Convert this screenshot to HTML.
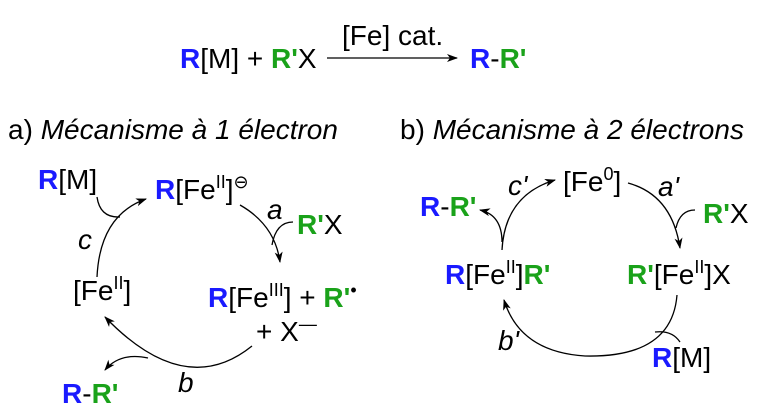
<!DOCTYPE html>
<html><head><meta charset="utf-8"><style>
html,body{margin:0;padding:0;background:#fff;}
svg{display:block;font-family:"Liberation Sans","DejaVu Sans",sans-serif;}
.B{fill:#1a1aff;font-weight:bold;}
.G{fill:#1aa21a;font-weight:bold;}
text{font-size:28px;fill:#000;}
.sup{font-size:18px;}
path{fill:none;stroke:#000;stroke-width:1.3;}
</style></head><body>
<svg width="760" height="413" viewBox="0 0 760 413">
<defs><marker id="ah" markerWidth="12" markerHeight="10" refX="10" refY="4" orient="auto" markerUnits="userSpaceOnUse"><path d="M0,0 L11,4 L0,8 L3,4 Z" style="fill:#000;stroke:none"/></marker></defs>

<!-- top equation -->
<text x="180" y="68"><tspan class="B">R</tspan>[M] + <tspan class="G">R'</tspan>X</text>
<path d="M327,58 L457,58" marker-end="url(#ah)"/>
<text x="342" y="45">[Fe] cat.</text>
<text x="470" y="68"><tspan class="B">R</tspan>-<tspan class="G">R'</tspan></text>

<text x="8" y="139">a) <tspan font-style="italic">Mécanisme à 1 électron</tspan></text>
<text x="400" y="139">b) <tspan font-style="italic">Mécanisme à 2 électrons</tspan></text>

<!-- left cycle -->
<text x="38" y="189"><tspan class="B">R</tspan>[M]</text>
<text x="155" y="199"><tspan class="B">R</tspan>[Fe<tspan class="sup" dy="-11">II</tspan><tspan dy="11">]</tspan><tspan class="sup" dy="-11" font-family="DejaVu Sans">⊖</tspan></text>
<text x="78" y="249" font-style="italic">c</text>
<text x="267" y="219" font-style="italic">a</text>
<text x="297" y="234"><tspan class="G">R'</tspan>X</text>
<text x="73" y="300">[Fe<tspan class="sup" dy="-11">II</tspan><tspan dy="11">]</tspan></text>
<text x="208" y="307"><tspan class="B">R</tspan>[Fe<tspan class="sup" dy="-11">III</tspan><tspan dy="11">] + </tspan><tspan class="G">R'</tspan><tspan class="sup" dy="-11">•</tspan></text>
<text x="256" y="341">+ X<tspan class="sup" dy="-11">—</tspan></text>
<text x="62" y="403"><tspan class="B">R</tspan>-<tspan class="G">R'</tspan></text>
<text x="178" y="392" font-style="italic">b</text>

<path d="M97,277 Q100,215 146,199" marker-end="url(#ah)"/>
<path d="M97,197 Q100,218 120,217"/>
<path d="M240,205 Q275,225 280,262" marker-end="url(#ah)"/>
<path d="M293,222 Q276,222 272,245"/>
<path d="M252,346 Q185,400 105,317" marker-end="url(#ah)"/>
<path d="M148,358 Q120,352 105,370" marker-end="url(#ah)"/>

<!-- right cycle -->
<text x="563" y="191">[Fe<tspan class="sup" dy="-11">0</tspan><tspan dy="11">]</tspan></text>
<text x="658" y="196" font-style="italic">a'</text>
<text x="703" y="223"><tspan class="G">R'</tspan>X</text>
<text x="627" y="284"><tspan class="G">R'</tspan>[Fe<tspan class="sup" dy="-11">II</tspan><tspan dy="11">]X</tspan></text>
<text x="652" y="367"><tspan class="B">R</tspan>[M]</text>
<text x="498" y="350" font-style="italic">b'</text>
<text x="445" y="284"><tspan class="B">R</tspan>[Fe<tspan class="sup" dy="-11">II</tspan><tspan dy="11">]</tspan><tspan class="G">R'</tspan></text>
<text x="420" y="216"><tspan class="B">R</tspan>-<tspan class="G">R'</tspan></text>
<text x="508" y="195" font-style="italic">c'</text>

<path d="M502,250 Q505,195 555,180" marker-end="url(#ah)"/>
<path d="M502,242 Q502,215 480,210" marker-end="url(#ah)"/>
<path d="M628,183 Q672,195 680,248" marker-end="url(#ah)"/>
<path d="M695,210 Q680,210 676,228"/>
<path d="M677,295 Q672,358 585,356 Q520,352 504,300" marker-end="url(#ah)"/>
<path d="M680,342 Q672,330 655,332"/>
</svg>
</body></html>
